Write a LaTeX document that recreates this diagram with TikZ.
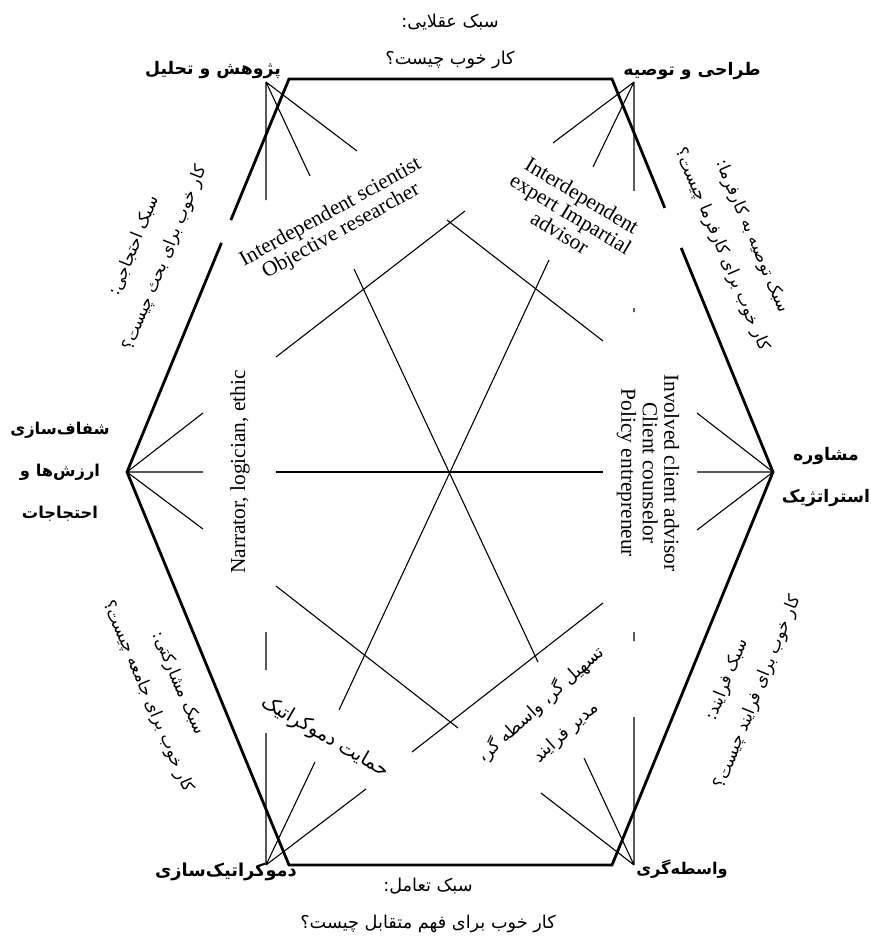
\documentclass[tikz,border=0pt]{standalone}
\usepackage{fontspec}
\setmainfont{Liberation Serif}
\newfontfamily\fa[Script=Arabic]{DejaVu Sans}
\TeXXeTstate=1
\usetikzlibrary{calc}
\tikzset{
  hexline/.style={line width=2.8pt, line join=miter},
  thinline/.style={line width=1.1pt},
  vlabel/.style={font=\fa\bfseries\fontsize{17.3}{42}\selectfont, align=center, inner sep=0pt},
  toptext/.style={font=\fa\fontsize{17.7}{37}\selectfont, align=center, inner sep=0pt},
  sidetext/.style={font=\fa\fontsize{16.8}{33}\selectfont, align=center, inner sep=0pt},
  innerfa/.style={font=\fa\fontsize{17.5}{37}\selectfont, align=center, inner sep=0pt},
  entext/.style={font=\fontsize{21.4}{21.5}\selectfont, align=center, inner sep=0pt},
}
\begin{document}
\begin{tikzpicture}[x=1pt, y=-1pt]
\useasboundingbox (0,0) rectangle (871,938);
% hexagon vertices
\coordinate (TL) at (289,79);
\coordinate (TR) at (612,79);
\coordinate (R)  at (773,472);
\coordinate (BR) at (612,865);
\coordinate (BL) at (289,865);
\coordinate (L)  at (127,472);
% hexagon with the two gaps on the upper slanted edges
\draw[hexline] ($(TL)!0.417!(L)$) -- (L) -- (BL) -- (BR) -- (R) -- ($(TR)!0.430!(R)$);
\draw[hexline] ($(TL)!0.359!(L)$) -- (TL) -- (TR) -- ($(TR)!0.328!(R)$);
% fan points
\coordinate (fTL) at (266,82);
\coordinate (fTR) at (634,82);
\coordinate (fBL) at (266,865);
\coordinate (fBR) at (634,865);
% fan ends
\coordinate (a1) at (266,200); \coordinate (a2) at (310,176); \coordinate (a3) at (357,151);
\coordinate (b1) at (634,191); \coordinate (b2) at (593,167); \coordinate (b3) at (553,143);
\coordinate (c1) at (203,413); \coordinate (c2) at (203,472); \coordinate (c3) at (203,529);
\coordinate (d1) at (697,413); \coordinate (d2) at (697,472); \coordinate (d3) at (697,530);
\coordinate (e1) at (266,733); \coordinate (e2) at (315,762); \coordinate (e3) at (366,789);
\coordinate (e4) at (266,632); \coordinate (e5) at (266,670);
\coordinate (g1) at (634,717); \coordinate (g2) at (584,758); \coordinate (g3) at (541,793);
\coordinate (g4) at (634,632); \coordinate (g5) at (634,641);
\coordinate (g6) at (634,308); \coordinate (g7) at (634,312);
\draw[thinline] (fTL) -- (a1) (fTL) -- (a2) (fTL) -- (a3);
\draw[thinline] (fTR) -- (b1) (fTR) -- (b2) (fTR) -- (b3);
\draw[thinline] (L) -- (c1) (L) -- (c2) (L) -- (c3);
\draw[thinline] (R) -- (d1) (R) -- (d2) (R) -- (d3);
\draw[thinline] (fBL) -- (e1) (fBL) -- (e2) (fBL) -- (e3) (e4) -- (e5);
\draw[thinline] (fBR) -- (g1) (fBR) -- (g2) (fBR) -- (g3) (g4) -- (g5) (g6) -- (g7);
% inner star lines
\coordinate (h1) at (276,472); \coordinate (h2) at (603,472);
\coordinate (k1) at (354,269); \coordinate (k2) at (538,662);
\coordinate (m1) at (549,260); \coordinate (m2) at (339,710);
\coordinate (pA1) at (276,357); \coordinate (pA2) at (465,211);
\coordinate (pB1) at (447,220); \coordinate (pB2) at (603,341);
\coordinate (pC1) at (276,586); \coordinate (pC2) at (458,728);
\coordinate (pD1) at (603,603); \coordinate (pD2) at (412,752);
\draw[thinline] (h1) -- (h2);
\draw[thinline] (k1) -- (k2);
\draw[thinline] (m1) -- (m2);
\draw[thinline] (pA1) -- (pA2);
\draw[thinline] (pB1) -- (pB2);
\draw[thinline] (pC1) -- (pC2);
\draw[thinline] (pD1) -- (pD2);
% vertex labels
\node[vlabel] (lTL) at (213,70) {\beginR پژوهش و تحلیل\endR};
\node[vlabel] (lTR) at (692,71) {\beginR طراحی و توصیه\endR};
\node[vlabel, font=\fa\bfseries\fontsize{16.3}{42}\selectfont] (lL) at (60,472) {\beginR شفاف‌سازی\endR\\\beginR ارزش‌ها و\endR\\\beginR احتجاجات\endR};
\node[vlabel] (lR) at (826,477) {\beginR مشاوره\endR\\\beginR استراتژیک\endR};
\node[vlabel, font=\fa\bfseries\fontsize{17.8}{42}\selectfont] (lBL) at (226,872) {\beginR دموکراتیک‌سازی\endR};
\node[vlabel, font=\fa\bfseries\fontsize{16.2}{42}\selectfont] (lBR) at (682,869) {\beginR واسطه‌گری\endR};
% top and bottom texts
\node[toptext] (tTop) at (450,41) {\beginR سبک عقلایی:\endR\\\beginR کار خوب چیست؟\endR};
\node[toptext] (tBot) at (428,905) {\beginR سبک تعامل:\endR\\\beginR کار خوب برای فهم متقابل چیست؟\endR};
% side texts
\node[sidetext, rotate=68] (sUL) at (150,252) {\beginR سبک احتجاجی:\endR\\\beginR کار خوب برای بحث چیست؟\endR};
\node[sidetext, rotate=-67] (sUR) at (737,243) {\beginR سبک توصیه به کارفرما:\endR\\\beginR کار خوب برای کارفرما چیست؟\endR};
\node[sidetext, rotate=-67] (sLL) at (163,690) {\beginR سبک مشارکتی:\endR\\\beginR کار خوب برای جامعه چیست؟\endR};
\node[sidetext, rotate=68] (sLR) at (743,686) {\beginR سبک فرایند:\endR\\\beginR کار خوب برای فرایند چیست؟\endR};
% inner role texts
\node[entext, rotate=29] (rUL) at (336,222) {Interdependent scientist\\Objective researcher};
\node[entext, rotate=-31] (rUR) at (571,214) {Interdependent\\expert Impartial\\advisor};
\node[entext, rotate=90] (rL) at (240,472) {Narrator, logician, ethic};
\node[entext, rotate=-90] (rR) at (648,473) {Involved client advisor\\Client counselor\\Policy entrepreneur};
\node[innerfa, font=\fa\fontsize{19.5}{37}\selectfont, rotate=-30] (rLL) at (325,737) {\beginR حمایت دموکراتیک\endR};
\node[innerfa, rotate=42] (rLR) at (553,718) {\beginR تسهیل گر، واسطه گر،\endR\\\beginR مدیر فرایند\endR};
\end{tikzpicture}
\end{document}
